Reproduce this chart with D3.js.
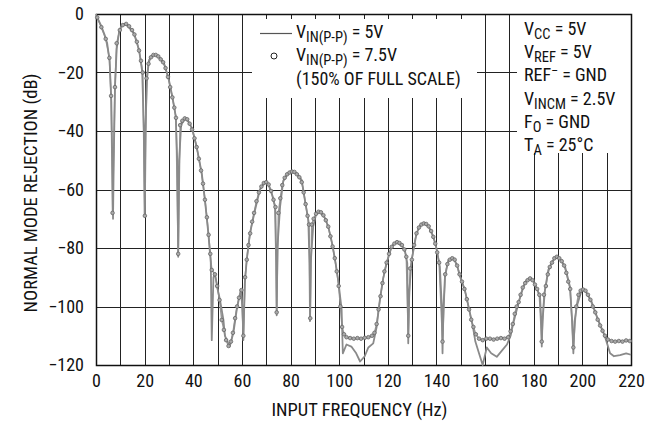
<!DOCTYPE html>
<html>
<head>
<meta charset="utf-8">
<script src="https://cdn.jsdelivr.net/npm/d3@7/dist/d3.min.js"></script>
<style>
  body { margin: 0; background: #fff; }
  svg text { font-family: "Liberation Sans Narrow", "Arial Narrow", "Roboto Condensed", sans-serif; fill: #111; }
</style>
</head>
<body>
<div id="chart"></div>
<script>
// x and y ticks
var xTicks = [0, 20, 40, 60, 80, 100, 120, 140, 160, 180, 200, 220];
var xGrid = [10, 20, 30, 40, 50, 60, 70, 80, 90, 100, 110, 120, 130, 140, 150, 160, 170, 180, 190, 200, 210];
var yTicks = [0, -20, -40, -60, -80, -100, -120];

// VIN(P-P) = 5V, solid line
var freq5 = [0, 0.5, 2, 3.5, 4.6, 5.6, 6.3, 6.8, 7.0, 7.3, 7.8, 8.5, 9.5, 10.5, 12, 13.5, 15.6, 17.7, 19, 19.7, 20, 20.3, 21, 21.8, 23, 24.5, 26, 28, 30, 31.4, 32.8, 33.4, 33.8, 34.2, 35, 36.6, 38, 39.5, 41.4, 43.5, 44.8, 46.2, 47.2, 47.6, 48.3, 48.9, 50, 51, 52.4, 53, 55, 56.5, 57.9, 59.5, 60.2, 60.6, 61.2, 62, 63.3, 65.4, 67.4, 69.5, 71, 72.5, 73.6, 74.1, 74.3, 74.6, 75.7, 77, 79, 81, 83, 84.6, 85.9, 87.3, 87.8, 88, 88.3, 89.3, 90.5, 92, 94, 95.5, 97, 98.3, 99.6, 101, 101.5, 103, 105, 107, 108.6, 110.5, 112, 114, 115.4, 116.8, 118.1, 119.5, 121.6, 123, 124.3, 126, 127, 128, 128.4, 128.8, 129.8, 131.8, 133.5, 135.3, 137, 138.7, 140, 141.4, 142.2, 142.5, 142.9, 143.5, 144.9, 147, 148.5, 149.7, 151.7, 153.8, 155, 156, 157.5, 159, 160.7, 162.5, 164.8, 167, 169, 170.5, 171.6, 173.7, 175.8, 177, 178.5, 180, 181.2, 182.6, 183.1, 183.3, 183.6, 184.6, 186, 187.7, 189.4, 191, 192.9, 194.9, 195.8, 196.3, 196.8, 197.7, 199.7, 201, 202.5, 203.8, 206.5, 209.3, 211.4, 213, 215.5, 218, 220];
var db5 = [0, -1.2, -3.8, -7, -10, -16, -30, -55, -70, -50, -25, -12, -6, -4, -3.4, -4.5, -6.6, -12.3, -19.7, -40, -69, -40, -22, -15.7, -14.3, -14, -14.8, -16.9, -22.6, -28.3, -35, -50, -83, -50, -38, -35.7, -36.8, -39, -45.4, -54.5, -63.6, -75, -85, -111.5, -90, -88.7, -94, -97.8, -104.6, -110, -113.7, -109, -101, -94.4, -100, -111.5, -92, -84, -75, -67, -60, -57.5, -58.5, -62, -66, -85, -103, -80, -65.9, -57, -54.5, -53.9, -55, -56.8, -63.6, -70.4, -85, -105, -85, -72.7, -68.5, -67.6, -69.5, -72.7, -78, -84, -91, -101, -116, -113, -113.7, -116, -118.8, -117, -114, -112.6, -107, -97.2, -90.4, -85.2, -79.5, -78.2, -78.4, -79.5, -80.7, -85.2, -112.6, -95, -84.1, -75, -72, -71.6, -73, -76.1, -80.1, -86.4, -100, -116, -100, -89.8, -84.1, -83.5, -86, -89.8, -94.4, -102.3, -107, -112, -116, -120, -114, -116, -117.2, -115, -113, -110, -105.7, -98.9, -93.2, -91, -90.4, -91.5, -93.8, -96.6, -105, -113.7, -105, -94.4, -87.5, -84.5, -83, -84, -86.4, -93.2, -105, -116, -105, -100, -94.4, -94.4, -96.5, -98.4, -104.6, -110.3, -116, -117, -116.6, -116, -116.5];

// VIN(P-P) = 7.5V (150% of full scale), circles
var freq75 = [0.5, 2.2, 4, 5.5, 6.2, 6.8, 7.8, 8.5, 9.8, 11, 12.4, 13.6, 14.8, 15.8, 16.8, 17.7, 18.5, 19.2, 20.1, 20.8, 21.6, 22.6, 23.6, 24.6, 25.6, 26.6, 27.6, 28.6, 29.6, 30.5, 31.4, 32.2, 32.9, 33.8, 34.6, 35.5, 36.5, 37.5, 38.5, 39.5, 40.5, 41.4, 42.3, 43.2, 44, 44.8, 45.6, 46.3, 47, 47.6, 48.9, 49.8, 50.8, 51.7, 52.6, 53.5, 54.5, 55.5, 56.3, 57.2, 58, 58.8, 59.8, 60.6, 61.3, 62, 62.7, 63.4, 64.2, 65, 66, 67, 68, 69, 70, 71, 72, 73, 73.8, 74.3, 75, 75.8, 76.6, 77.6, 78.6, 79.6, 80.6, 81.6, 82.6, 83.6, 84.6, 85.4, 86.2, 87, 87.6, 88.1, 88.7, 89.5, 90.5, 91.5, 92.5, 93.5, 94.5, 95.5, 96.4, 97.3, 98.2, 99, 99.8, 100.5, 101.2, 102, 103, 104.5, 106, 107.5, 109, 110.5, 112, 113.5, 114.5, 115.4, 116.2, 117, 117.8, 118.6, 119.5, 120.5, 121.6, 122.7, 123.8, 124.8, 125.8, 126.8, 127.6, 128.4, 129.2, 129.9, 130.8, 131.8, 132.8, 133.8, 134.8, 135.8, 136.8, 137.8, 138.7, 139.5, 140.3, 141.1, 142.5, 143.6, 144.5, 145.5, 146.5, 147.5, 148.5, 149.5, 150.5, 151.5, 152.5, 153.4, 154.3, 155.2, 156.2, 157.5, 159, 160.5, 162, 163.5, 165, 166.5, 168, 169.5, 170.5, 171.4, 172.2, 173, 173.8, 174.6, 175.5, 176.5, 177.5, 178.5, 179.5, 180.5, 181.4, 182.3, 183.3, 184.2, 185, 185.8, 186.6, 187.5, 188.5, 189.5, 190.5, 191.5, 192.5, 193.4, 194.2, 195, 196.3, 197.5, 198.4, 199.3, 200.3, 201.3, 202.3, 203.3, 204.3, 205.3, 206.3, 207.3, 208.3, 209.3, 210.5, 212, 213.5, 215, 216.5, 218, 219.5];
var db75 = [-1.2, -4.5, -8.5, -15, -28, -68, -25, -10, -5.5, -3.8, -3.4, -4.2, -5.5, -7, -9.5, -12.5, -16, -20, -69, -22, -17, -14.8, -14, -14, -14.5, -15.5, -16.5, -18.5, -21.5, -25, -28.5, -32, -35.5, -82, -38, -36.5, -35.7, -36, -37.5, -39.5, -42.5, -45.5, -49.5, -53.5, -58, -63.5, -69.5, -75.5, -82, -87.5, -89, -93, -97.8, -104.6, -108, -111.5, -113.5, -112, -109, -104, -100, -97, -94.4, -110, -90, -84, -79, -75, -71, -68, -64, -61, -59, -57.8, -57.5, -58.3, -60.5, -63.5, -66, -102, -68, -63, -58.5, -56, -54.8, -54.2, -53.9, -54, -54.8, -55.8, -57.5, -61, -65, -69, -72, -104, -72, -70, -68.3, -67.6, -67.8, -68.8, -70.5, -72.7, -76, -79.5, -83.5, -88, -93, -100, -107, -109.5, -110.5, -110.8, -111, -110.8, -111, -110.7, -110.5, -110, -109, -106, -101, -96.5, -92, -88, -85, -82, -79.6, -78.5, -78, -78.3, -79, -80.5, -83, -110, -87, -84, -79, -75, -73, -72, -71.6, -71.8, -72.6, -74.2, -76.2, -78.5, -81.5, -85, -112, -89, -85.5, -84, -83.5, -84, -86, -89, -91.5, -94, -97.5, -101, -104.5, -107, -109.5, -111, -111.5, -111, -111, -111.3, -111, -110.8, -111, -110.5, -108.5, -106, -102.5, -100, -98.5, -96, -93.5, -92, -91, -90.4, -91, -92.5, -94, -96, -112, -96, -93, -89, -86.5, -85, -83.5, -83, -83.5, -84.5, -86, -88.5, -91.5, -94, -114, -100, -96, -94.6, -94.2, -94.6, -96, -97.7, -100, -102, -104.5, -106.5, -108.3, -110, -111.3, -111.8, -112, -111.8, -112, -111.6, -111.8];

var margin = {top: 14, right: 27, bottom: 56, left: 96},
  W = 658, H = 421,
  width = W - margin.left - margin.right,
  height = H - margin.top - margin.bottom;

var svg = d3.select('#chart').append('svg')
  .attr('width', W)
  .attr('height', H);

var g = svg.append('g')
  .attr('transform', 'translate(' + margin.left + ',' + margin.top + ')');

var x = d3.scaleLinear().domain([0, 220]).range([0, width]);
var y = d3.scaleLinear().domain([-120, 0]).range([height, 0]);

// grid
g.append('g')
  .attr('class', 'grid')
  .selectAll('line.v')
  .data(xGrid)
  .enter().append('line')
  .attr('x1', function(d) { return Math.round(x(d)) + 0.5; })
  .attr('x2', function(d) { return Math.round(x(d)) + 0.5; })
  .attr('y1', 0).attr('y2', height)
  .style('stroke', '#222').style('stroke-width', 1);

g.append('g')
  .attr('class', 'grid')
  .selectAll('line.h')
  .data(yTicks.slice(1, -1))
  .enter().append('line')
  .attr('y1', function(d) { return Math.round(y(d)) + 0.5; })
  .attr('y2', function(d) { return Math.round(y(d)) + 0.5; })
  .attr('x1', 0).attr('x2', width)
  .style('stroke', '#222').style('stroke-width', 1);

// white boxes for the legend and the conditions
g.append('rect')
  .attr('x', 156).attr('y', 5).attr('width', 225).attr('height', 79)
  .style('fill', '#fff');
g.append('rect')
  .attr('x', 421).attr('y', 1).attr('width', width - 421).attr('height', 138)
  .style('fill', '#fff');

// frame
g.append('rect')
  .attr('x', 0.5).attr('y', 0.5)
  .attr('width', width).attr('height', height)
  .style('fill', 'none').style('stroke', '#111').style('stroke-width', 1.5);

// curves
var line5 = d3.line()
  .x(function(d, i) { return x(freq5[i]); })
  .y(function(d, i) { return y(db5[i]); });

var line75 = d3.line()
  .x(function(d, i) { return x(freq75[i]); })
  .y(function(d, i) { return y(db75[i]); });

g.append('path')
  .datum(db75)
  .attr('d', line75)
  .style('fill', 'none')
  .style('stroke', '#999')
  .style('stroke-width', 1.5);

g.append('path')
  .datum(db5)
  .attr('d', line5)
  .style('fill', 'none')
  .style('stroke', '#8a8a8a')
  .style('stroke-width', 1.8)
  .style('stroke-linejoin', 'round');

g.append('g')
  .selectAll('circle')
  .data(db75)
  .enter().append('circle')
  .attr('cx', function(d, i) { return x(freq75[i]); })
  .attr('cy', function(d) { return y(d); })
  .attr('r', 1.8)
  .style('fill', '#aaa')
  .style('stroke', '#666')
  .style('stroke-width', 0.8);

// axes labels
var xAxis = g.append('g')
  .attr('transform', 'translate(0,' + height + ')')
  .call(d3.axisBottom(x).tickValues(xTicks).tickSize(0).tickPadding(9));
xAxis.select('.domain').remove();
xAxis.selectAll('text').style('font-size', '18px').style('fill', '#111');

var yAxis = g.append('g')
  .call(d3.axisLeft(y).tickValues(yTicks).tickSize(0).tickPadding(12));
yAxis.select('.domain').remove();
yAxis.selectAll('text').style('font-size', '18px').style('fill', '#111');

svg.append('text')
  .attr('x', margin.left + width / 2 - 4)
  .attr('y', 416)
  .attr('text-anchor', 'middle')
  .style('font-size', '18.5px')
  .text('INPUT FREQUENCY (Hz)');

svg.append('text')
  .attr('transform', 'translate(37,' + 193 + ')rotate(-90)')
  .attr('text-anchor', 'middle')
  .style('font-size', '18.5px')
  .text('NORMAL MODE REJECTION (dB)');

// legend
var leg = svg.append('g');
leg.append('line')
  .attr('x1', 260).attr('x2', 292).attr('y1', 33.5).attr('y2', 33.5)
  .style('stroke', '#555').style('stroke-width', 1.2);
leg.append('circle')
  .attr('cx', 274).attr('cy', 56).attr('r', 3)
  .style('fill', '#fff').style('stroke', '#222').style('stroke-width', 1);

function subText(sel, xx, yy, main, sub, rest) {
  var t = sel.append('text').attr('x', xx).attr('y', yy).style('font-size', '18px');
  t.append('tspan').text(main);
  t.append('tspan').attr('dy', 3.5).style('font-size', '14.5px').text(sub);
  t.append('tspan').attr('dy', -3.5).text(rest);
  return t;
}

subText(leg, 296, 38, 'V', 'IN(P-P)', ' = 5V');
subText(leg, 296, 61, 'V', 'IN(P-P)', ' = 7.5V');
leg.append('text').attr('x', 296).attr('y', 85).style('font-size', '18px')
  .text('(150% OF FULL SCALE)');

// conditions
var cond = svg.append('g');
subText(cond, 524, 35, 'V', 'CC', ' = 5V');
subText(cond, 524, 58, 'V', 'REF', ' = 5V');
var r = cond.append('text').attr('x', 524).attr('y', 81).style('font-size', '18px');
r.append('tspan').text('REF');
r.append('tspan').attr('dy', -6).style('font-size', '12px').text('\u2013');
r.append('tspan').attr('dy', 6).text(' = GND');
subText(cond, 524, 105, 'V', 'INCM', ' = 2.5V');
subText(cond, 524, 128, 'F', 'O', ' = GND');
subText(cond, 524, 151, 'T', 'A', ' = 25\u00b0C');
</script>
</body>
</html>
